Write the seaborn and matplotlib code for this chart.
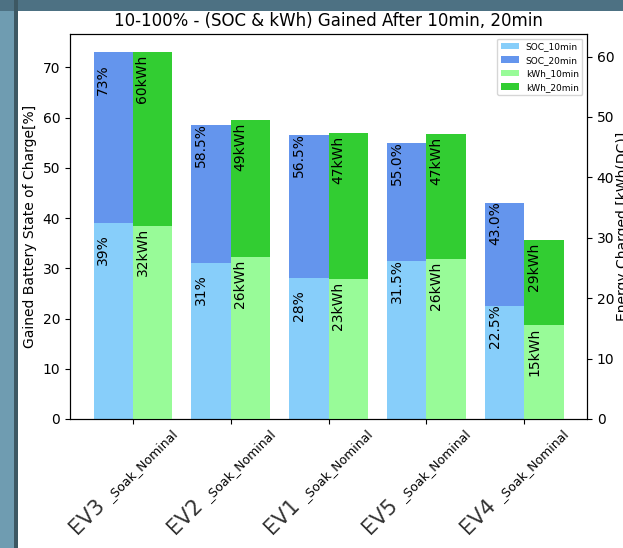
import matplotlib
matplotlib.use("Agg")
import matplotlib.pyplot as plt
from matplotlib.patches import Patch, Rectangle
import pandas as pd
import seaborn as sns

# Vehicles tested on the same soak / nominal profile
vehicles = ["EV3", "EV2", "EV1", "EV5", "EV4"]
test_suffix = "_Soak_Nominal"

# State of charge gained [%] after 10 and 20 minutes
soc_10min = [39, 31, 28, 31.5, 22.5]
soc_20min = [73, 58.5, 56.5, 55.0, 43.0]

# Energy charged [kWh(DC)] after 10 and 20 minutes
kwh_10min = [32.0, 26.8, 23.1, 26.5, 15.5]
kwh_20min = [60.7, 49.5, 47.3, 47.1, 29.6]

series_names = ["SOC_10min", "SOC_20min", "kWh_10min", "kWh_20min"]
colors = {
    "SOC_10min": "#87CEFA",
    "SOC_20min": "#6495ED",
    "kWh_10min": "#98FB98",
    "kWh_20min": "#32CD32",
}

W, H = 623, 548
fig = plt.figure(figsize=(W / 100, H / 100), dpi=100)
fig.patch.set_facecolor("#6f9cb1")
# window frame around the canvas
fig.add_artist(Rectangle((0, 1 - 11 / H), 1, 11 / H, transform=fig.transFigure,
                         facecolor="#4d7183", edgecolor="none", zorder=-3))
fig.add_artist(Rectangle((14 / W, 0), 4 / W, 1, transform=fig.transFigure,
                         facecolor="#3d5863", edgecolor="none", zorder=-2))
fig.add_artist(Rectangle((18 / W, 0), 1, 1 - 11 / H, transform=fig.transFigure,
                         facecolor="white", edgecolor="none", zorder=-1))

ax = fig.add_axes([70 / W, 1 - 419 / H, (587 - 70) / W, (419 - 34) / H])
ax2 = ax.twinx()


def draw_series(axis, values, metric, color, fmt):
    """Draw one series in its dodge slot and label each bar near its top."""
    df = pd.DataFrame({"vehicle": vehicles, "value": values, "metric": metric})
    n_before = len(axis.patches)
    sns.barplot(data=df, x="vehicle", y="value", hue="metric",
                hue_order=["SOC", "kWh"], order=vehicles,
                palette={"SOC": color, "kWh": color}, dodge=True, width=0.8,
                saturation=1, errorbar=None, linewidth=0, legend=False, ax=axis)
    bars = sorted(axis.patches[n_before:], key=lambda p: p.get_x())
    for p, v in zip(bars, values):
        axis.text(p.get_x() + p.get_width() / 4, v - 8.4, fmt(v),
                  rotation=90, ha="center", va="bottom", fontsize=10)


soc_fmt = lambda v: f"{v}%"
kwh_fmt = lambda v: f"{int(v)}kWh"

# 20 min totals first, the 10 min part is drawn over them
draw_series(ax, soc_20min, "SOC", colors["SOC_20min"], soc_fmt)
draw_series(ax, soc_10min, "SOC", colors["SOC_10min"], soc_fmt)
draw_series(ax2, kwh_20min, "kWh", colors["kWh_20min"], kwh_fmt)
draw_series(ax2, kwh_10min, "kWh", colors["kWh_10min"], kwh_fmt)

# x range: bar extents plus the usual 5% margin
lefts = [p.get_x() for p in ax.patches + ax2.patches]
rights = [p.get_x() + p.get_width() for p in ax.patches + ax2.patches]
lo, hi = min(lefts), max(rights)
pad = 0.05 * (hi - lo)
ax.set_xlim(lo - pad, hi + pad)
ax2.set_xlim(lo - pad, hi + pad)
ax.set_ylim(0, None)
ax2.set_ylim(0, None)

ax.set_xlabel("")
ax2.set_xlabel("")
ax.set_ylabel("Gained Battery State of Charge[%]")
ax2.set_ylabel("Energy Charged [kWh(DC)]", labelpad=1)
ax.set_title("10-100% - (SOC & kWh) Gained After 10min, 20min", fontsize=12)

# category labels: vehicle name in large type, test name in small type
ax.tick_params(axis="x", labelbottom=False)
for x, name in zip(ax.get_xticks(), vehicles):
    ax.annotate(test_suffix, xy=(x, 0), xycoords=("data", "axes fraction"),
                xytext=(-22, -83), textcoords="offset pixels", rotation=45,
                rotation_mode="anchor", ha="left", va="baseline", fontsize=9,
                annotation_clip=False)
    ax.annotate(name, xy=(x, 0), xycoords=("data", "axes fraction"),
                xytext=(-56, -116), textcoords="offset pixels", rotation=45,
                rotation_mode="anchor", ha="left", va="baseline", fontsize=15,
                color="#333333", annotation_clip=False)

handles = [Patch(facecolor=colors[n], label=n) for n in series_names]
ax2.legend(handles=handles, loc="upper right", fontsize=6.5)

fig.savefig("out.png", dpi=100, facecolor=fig.get_facecolor())
